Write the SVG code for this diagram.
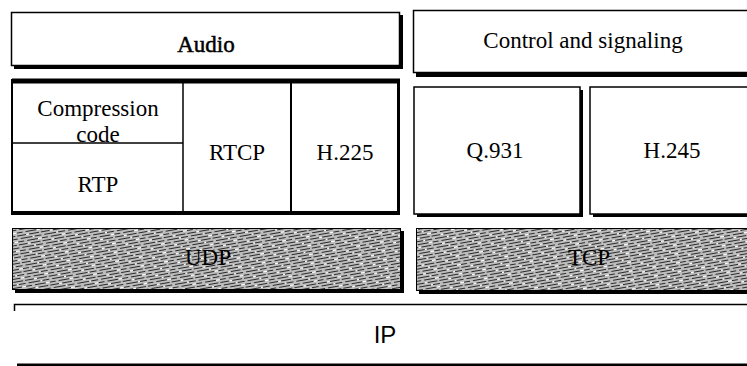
<svg xmlns="http://www.w3.org/2000/svg" width="747" height="366" viewBox="0 0 747 366">
<defs>
<pattern id="tex" width="24" height="9" patternUnits="userSpaceOnUse" patternTransform="rotate(-10)">
<rect width="24" height="9" fill="#bdbdbd"/>
<path d="M0 1.5H9M12 1.5H22M3 4.5H15M17 4.5H24M0 7.5H6M9 7.5H20" stroke="#2a2a2a" stroke-width="1.2"/>
<path d="M9 1.5H12M15 4.5H17M20 7.5H24" stroke="#fff" stroke-width="1.2"/>
</pattern>
<style>
.t{font-family:'Liberation Serif','Times New Roman',Times,serif;font-size:23px;fill:#000;text-anchor:middle}
.ss{font-family:'Liberation Sans',Arial,sans-serif;font-size:24px;fill:#000;text-anchor:middle}
.b{stroke:#000;stroke-width:0.5}
.box{fill:#fff;stroke:#000;stroke-width:1.5}
.sh{fill:#000}
.ln{stroke:#000;fill:none}
</style>
</defs>
<g id="audio">
<rect class="sh" x="14" y="15" width="389" height="54"/>
<rect class="box" x="11.5" y="12.5" width="388" height="53"/>
<text class="t b" x="206" y="52">Audio</text>
</g>
<g id="control">
<rect class="sh" x="416" y="13" width="331" height="64"/>
<rect class="box" x="413.5" y="10.5" width="336" height="62"/>
<text class="t" x="583" y="48">Control and signaling</text>
</g>
<g id="media-table">
<rect class="box" x="12" y="81" width="387" height="132"/>
<line class="ln" x1="12" y1="81" x2="400" y2="81" stroke-width="5"/>
<line class="ln" x1="12" y1="213" x2="400" y2="213" stroke-width="4"/>
<line class="ln" x1="398.5" y1="79" x2="398.5" y2="215" stroke-width="3"/>
<line class="ln" x1="12" y1="79" x2="12" y2="215" stroke-width="2"/>
<line class="ln" x1="183" y1="81" x2="183" y2="213" stroke-width="1.5"/>
<line class="ln" x1="291" y1="81" x2="291" y2="213" stroke-width="2"/>
<line class="ln" x1="12" y1="143" x2="183" y2="143" stroke-width="1.5"/>
</g>
<g id="compression"><text class="t" x="98" y="116">Compression</text><text class="t" x="98" y="142">code</text></g>
<g id="rtp"><text class="t" x="98" y="192">RTP</text></g>
<g id="rtcp"><text class="t" x="237" y="160">RTCP</text></g>
<g id="h225"><text class="t" x="345" y="160">H.225</text></g>
<g id="q931">
<rect class="sh" x="417" y="90" width="166" height="127"/>
<rect class="box" x="414" y="87" width="166" height="127"/>
<text class="t" x="495" y="158">Q.931</text>
</g>
<g id="h245">
<rect class="sh" x="593" y="90" width="154" height="127"/>
<rect class="box" x="590" y="87" width="160" height="127"/>
<text class="t" x="672" y="158">H.245</text>
</g>
<g id="udp">
<rect class="sh" x="15" y="231" width="389" height="62"/>
<rect x="12.5" y="228.5" width="388" height="61" fill="url(#tex)" stroke="#000" stroke-width="1"/>
<text class="t" x="208" y="265">UDP</text>
</g>
<g id="tcp">
<rect class="sh" x="419" y="231" width="328" height="63"/>
<rect x="416.5" y="228.5" width="332" height="62" fill="url(#tex)" stroke="#000" stroke-width="1"/>
<text class="t" x="589" y="265">TCP</text>
</g>
<g id="ip">
<path class="ln" d="M14.5 311V304.5H747" stroke-width="1.5"/>
<line class="ln" x1="17" y1="365" x2="747" y2="365" stroke-width="3"/>
<text class="ss" x="385" y="343">IP</text>
</g>
<g id="connectors"></g>
</svg>
